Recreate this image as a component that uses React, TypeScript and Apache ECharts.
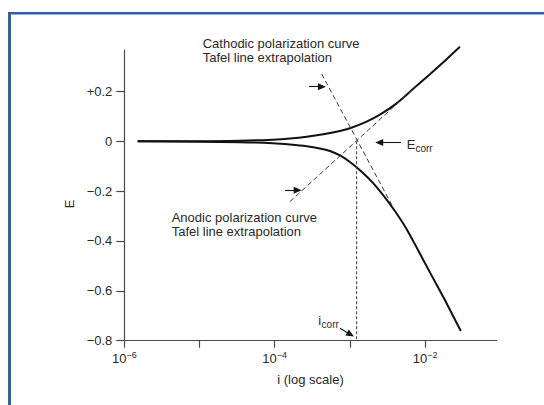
import React, { useEffect, useRef } from "react";
import * as echarts from "echarts";

// Current density is plotted as log10(i); potential E in volts.
const xMin = -6;
const xMax = -1.047;
const yMin = -0.8;
const yMax = 0.366;

const xTickValues = [-6, -5, -4, -3, -2];
const xLabelValues = [-6, -4, -2];
const yTickValues = [-0.8, -0.6, -0.4, -0.2, 0, 0.2];

// Anodic polarization curve (upper branch)
const anodicLogI = [-5.822, -4.993, -4.461, -4.023, -3.797, -3.574, -3.354, -3.132, -2.999, -2.777, -2.6, -2.378, -2.157, -1.935, -1.713, -1.536];
const anodicE = [0, 0, 0.002, 0.0064, 0.0108, 0.0177, 0.0277, 0.0413, 0.0522, 0.079, 0.1067, 0.152, 0.2102, 0.2692, 0.3293, 0.3789];

// Cathodic polarization curve (lower branch)
const cathodicLogI = [-5.822, -4.993, -4.461, -4.023, -3.797, -3.574, -3.398, -3.265, -3.132, -2.999, -2.839, -2.693, -2.547, -2.401, -2.254, -2.094, -1.935, -1.736, -1.524];
const cathodicE = [0, -0.002, -0.0036, -0.008, -0.013, -0.02, -0.029, -0.039, -0.057, -0.083, -0.123, -0.167, -0.22, -0.28, -0.348, -0.436, -0.526, -0.637, -0.761];

// Tafel line extrapolations
const cathodicTafelLogI = [-3.375, -2.43];
const cathodicTafelE = [0.27, -0.262];
const anodicTafelLogI = [-3.797, -2.112];
const anodicTafelE = [-0.242, 0.222];

// Corrosion point
const iCorrLog = -2.91;
const eCorr = 0;

// Pointer arrows: [tailLogI, tailE, headLogI, headE]
const arrows = [
  [-3.544, 0.219, -3.371, 0.219],
  [-3.863, -0.197, -3.694, -0.197],
  [-2.32, -0.005, -2.61, -0.005],
  [-3.132, -0.75, -2.991, -0.775],
];

const FONT = "'Liberation Sans', Arial, Helvetica, sans-serif";
const INK = "#2a2a2a";
const FRAME = "#375f92";

const zip = (xs: number[], ys: number[]) => xs.map((x, k) => [x, ys[k]]);

const fmtE = (v: number) => {
  if (Math.abs(v) < 1e-9) return "0";
  return (v > 0 ? "+" : "\u2212") + Math.abs(v).toFixed(1);
};

export default function App() {
  const ref = useRef<HTMLDivElement>(null);

  useEffect(() => {
    if (!ref.current) return;
    const chart = echarts.init(ref.current, null, { renderer: "svg" });

    const curveStyle = { color: "#111111", width: 2 };
    const dashStyle = { color: "#3a3a3a", width: 1, type: [5, 3] as number[] };
    const axisLineStyle = { color: "#4a4a4a", width: 1.2 };

    chart.setOption({
      animation: false,
      backgroundColor: "#ffffff",
      textStyle: { fontFamily: FONT, color: INK },
      grid: { left: 124.3, right: 47.3, top: 50, bottom: 64.3 },
      xAxis: {
        type: "value",
        min: xMin,
        max: xMax,
        name: "i (log scale)",
        nameLocation: "middle",
        nameGap: 32,
        nameTextStyle: { fontSize: 13, color: INK, fontFamily: FONT },
        axisLine: { onZero: false, lineStyle: axisLineStyle },
        axisTick: { show: true, length: 7, customValues: xTickValues, lineStyle: axisLineStyle },
        splitLine: { show: false },
        axisLabel: {
          customValues: xLabelValues,
          margin: 10,
          formatter: (v: number) => `{b|10}{s|\u2212${Math.round(-v)}}`,
          rich: {
            b: { fontSize: 13, lineHeight: 15, color: INK, fontFamily: FONT },
            s: { fontSize: 9, lineHeight: 5, verticalAlign: "top", color: INK, fontFamily: FONT },
          },
        },
      },
      yAxis: {
        type: "value",
        min: yMin,
        max: yMax,
        axisLine: { onZero: false, lineStyle: axisLineStyle },
        axisTick: { show: true, length: 8, customValues: yTickValues, lineStyle: axisLineStyle },
        splitLine: { show: false },
        axisLabel: {
          customValues: yTickValues,
          margin: 12,
          fontSize: 13,
          color: INK,
          fontFamily: FONT,
          formatter: (v: number) => fmtE(v),
        },
      },
      series: [
        {
          name: "Anodic polarization curve",
          type: "line",
          data: zip(anodicLogI, anodicE),
          smooth: 0.3,
          showSymbol: false,
          clip: false,
          lineStyle: curveStyle,
        },
        {
          name: "Cathodic polarization curve",
          type: "line",
          data: zip(cathodicLogI, cathodicE),
          smooth: 0.3,
          showSymbol: false,
          clip: false,
          lineStyle: curveStyle,
        },
        {
          name: "Cathodic Tafel line",
          type: "line",
          data: zip(cathodicTafelLogI, cathodicTafelE),
          showSymbol: false,
          lineStyle: dashStyle,
        },
        {
          name: "Anodic Tafel line",
          type: "line",
          data: zip(anodicTafelLogI, anodicTafelE),
          showSymbol: false,
          lineStyle: dashStyle,
        },
        {
          name: "i corr",
          type: "line",
          data: [
            [iCorrLog, eCorr],
            [iCorrLog, yMin],
          ],
          showSymbol: false,
          lineStyle: { color: "#3a3a3a", width: 1, type: [3, 2] },
        },
        {
          name: "pointers",
          type: "line",
          data: [],
          markLine: {
            silent: true,
            animation: false,
            symbol: ["none", "triangle"],
            symbolSize: [7, 8],
            label: { show: false },
            lineStyle: { color: "#151515", width: 1.1, type: "solid" },
            emphasis: { disabled: true },
            data: arrows.map(([x1, y1, x2, y2]) => [
              { coord: [x1, y1] },
              { coord: [x2, y2] },
            ]),
          },
        },
      ],
      graphic: [
        { type: "rect", left: 8, top: 12, shape: { width: 3, height: 400 }, style: { fill: FRAME } },
        { type: "rect", left: 8, top: 12, shape: { width: 540, height: 2.5 }, style: { fill: FRAME } },
        {
          type: "text",
          x: 69,
          y: 204,
          rotation: Math.PI / 2,
          style: { text: "E", font: `13px ${FONT}`, fill: INK, align: "center", verticalAlign: "middle" },
        },
        {
          type: "text",
          x: 202.7,
          y: 36.3,
          style: {
            text: "Cathodic polarization curve\nTafel line extrapolation",
            font: `13px ${FONT}`,
            lineHeight: 14,
            fill: INK,
            align: "left",
            verticalAlign: "top",
          },
        },
        {
          type: "text",
          x: 171.7,
          y: 210.3,
          style: {
            text: "Anodic polarization curve\nTafel line extrapolation",
            font: `13px ${FONT}`,
            lineHeight: 14,
            fill: INK,
            align: "left",
            verticalAlign: "top",
          },
        },
        { type: "text", x: 406.7, y: 144.2, style: { text: "E", font: `13px ${FONT}`, fill: INK, verticalAlign: "middle" } },
        { type: "text", x: 415.4, y: 148, style: { text: "corr", font: `10px ${FONT}`, fill: INK, verticalAlign: "middle" } },
        { type: "text", x: 318.3, y: 320.5, style: { text: "i", font: `13px ${FONT}`, fill: INK, verticalAlign: "middle" } },
        { type: "text", x: 321.6, y: 324.5, style: { text: "corr", font: `10px ${FONT}`, fill: INK, verticalAlign: "middle" } },
      ],
    });

    return () => chart.dispose();
  }, []);

  return (
    <div
      ref={ref}
      style={{ position: "fixed", left: 0, top: 0, width: 544, height: 405, background: "#fff" }}
    />
  );
}
